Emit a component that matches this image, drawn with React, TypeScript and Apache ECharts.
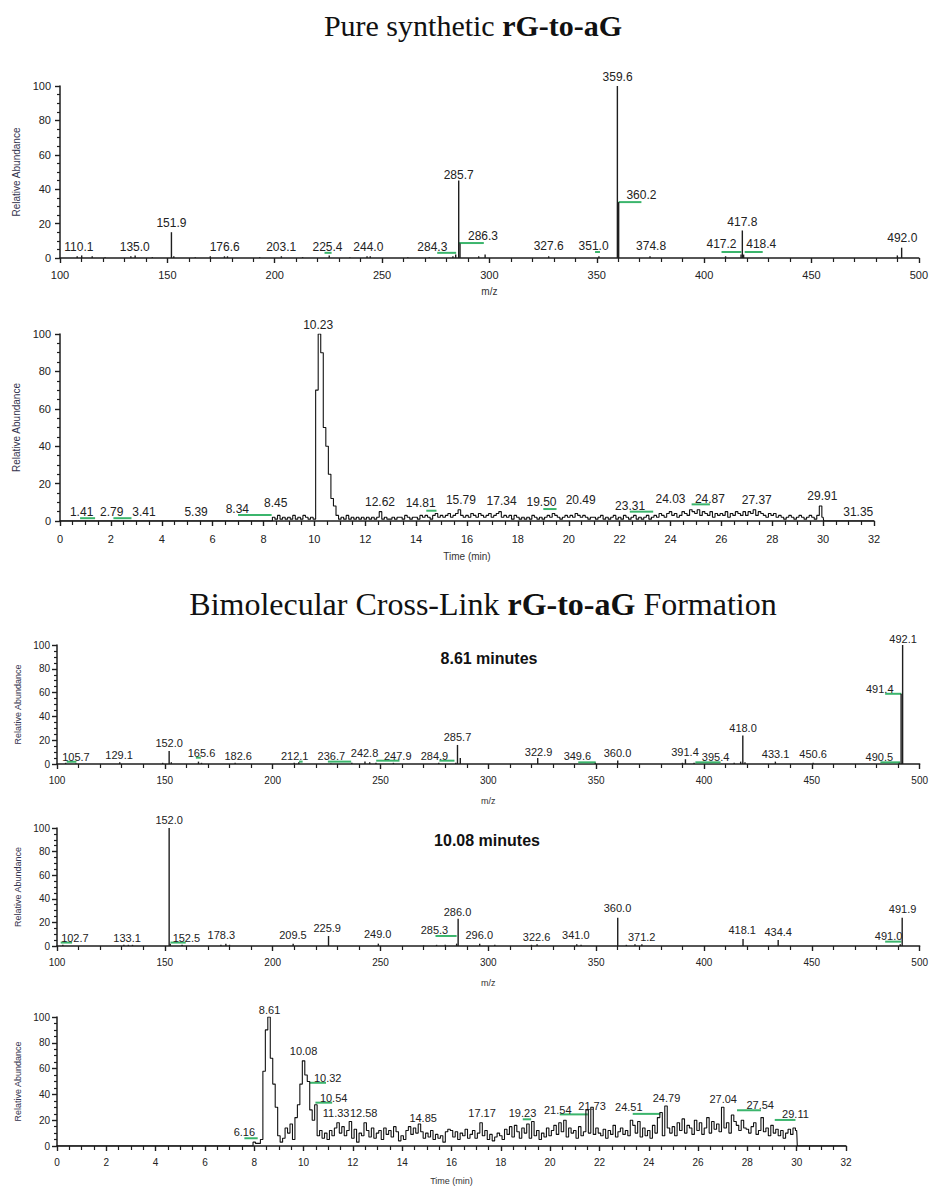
import React, { useEffect, useRef } from "react";
import * as echarts from "echarts";

// ---------- Panel 1: pure synthetic MS ----------
const ms1Peaks: [number, number][] = [
  [108, 1], [110.1, 1.5], [115, 1], [121, 0.5], [133, 1], [135, 1.5], [143, 0.5],
  [151.9, 15], [153, 1], [163, 0.5], [170, 1], [176.6, 1], [178, 1], [193, 0.5],
  [203.1, 1], [213, 0.5], [225.4, 1.5], [235, 0.5], [243, 1], [244.5, 1], [262, 0.5],
  [272, 0.5], [283, 1], [284.3, 2], [285.7, 45], [286.3, 8.5], [295, 1], [298, 2],
  [327.6, 1], [351, 1], [359.6, 100], [360.2, 32.5], [374.8, 1], [410, 1],
  [417.2, 2], [417.8, 16], [418.4, 2], [490, 1.5], [492, 6],
];
const ms1Labels: [number, number, string][] = [
  [108.8, 6.4, "110.1"], [134.8, 6.4, "135.0"], [151.9, 20.2, "151.9"],
  [176.7, 6.6, "176.6"], [203, 6.4, "203.1"], [224.6, 6.4, "225.4"],
  [243.6, 6.4, "244.0"], [273.4, 6.4, "284.3"], [285.7, 48, "285.7"],
  [297, 12.6, "286.3"], [327.6, 6.8, "327.6"], [348.5, 6.8, "351.0"],
  [359.7, 105.2, "359.6"], [370.8, 36.5, "360.2"], [375.3, 6.8, "374.8"],
  [417.8, 20.9, "417.8"], [408.1, 8, "417.2"], [426.6, 8, "418.4"],
  [492.3, 11.5, "492.0"],
];
const ms1Leaders: [number, number, number][] = [
  [223.2, 226.5, 3], [275.7, 284.5, 3], [285.8, 297.4, 8.7],
  [349.2, 351.5, 3.5], [360.2, 370.8, 32.5], [408.1, 417.3, 3.5], [418.9, 427.3, 3.5],
];

// ---------- Panel 2: chromatogram (pure synthetic) ----------
const chrom1Start = 8.3;
const chrom1Step = 0.1;
const chrom1Values = [
  0, 2, 1, 3, 1, 2, 1,
  2, 1, 3, 1, 2, 1, 3, 2, 1, 2,
  1, 70, 100, 90, 50, 40, 25, 12, 8, 3,
  1, 2, 1, 3, 1, 2, 1, 2, 1, 2,
  1, 2, 1, 2, 1, 2, 5, 1, 2, 1,
  1, 2, 1, 2, 2, 1, 3, 2, 1, 2,
  2, 1, 3, 2, 3, 2, 1, 3, 4, 2,
  3, 2, 3, 4, 2, 3, 4, 6, 3, 2,
  3, 2, 4, 3, 2, 4, 3, 2, 3, 4,
  2, 3, 4, 5, 2, 3, 2, 3, 1, 3,
  2, 1, 2, 1, 2, 1, 3, 2, 1, 2,
  1, 2, 3, 2, 4, 3, 2, 1, 2, 3,
  2, 3, 2, 4, 3, 2, 3, 2, 1, 2,
  2, 1, 2, 3, 1, 2, 1, 2, 3, 1,
  2, 1, 3, 2, 1, 2, 3, 1, 2, 1,
  2, 3, 1, 2, 3, 2, 4, 3, 2, 4,
  5, 3, 4, 2, 3, 5, 4, 3, 6, 5,
  4, 6, 3, 5, 4, 3, 5, 2, 4, 3,
  4, 3, 5, 2, 4, 3, 5, 4, 3, 5,
  3, 5, 4, 6, 3, 5, 4, 3, 2, 4,
  3, 4, 2, 3, 2, 1, 2, 3, 2, 1,
  2, 3, 2, 1, 2, 3, 2, 1, 3, 8,
  2,
];
const chrom1Lead: [number, number][] = [[0, 0], [8.25, 0]];
const chrom1Tail: [number, number][] = [[30.05, 0], [32, 0]];
const chrom1Labels: [number, number, string][] = [
  [0.85, 4.7, "1.41"], [2.03, 4.7, "2.79"], [3.3, 4.7, "3.41"], [5.35, 4.7, "5.39"],
  [6.97, 6.3, "8.34"], [8.48, 9.5, "8.45"], [10.15, 104.8, "10.23"],
  [12.58, 10.3, "12.62"], [14.18, 9.5, "14.81"], [15.76, 11.2, "15.79"],
  [17.36, 10.9, "17.34"], [18.93, 10, "19.50"], [20.47, 11.2, "20.49"],
  [22.41, 8.2, "23.31"], [24.0, 11.6, "24.03"], [25.55, 11.6, "24.87"],
  [27.39, 11.2, "27.37"], [29.97, 13.4, "29.91"], [31.38, 5, "31.35"],
];
const chrom1Leaders: [number, number, number][] = [
  [0.79, 1.38, 1.5], [2.1, 2.81, 1.5], [7.0, 8.32, 3.2], [14.4, 14.8, 5.5],
  [19.0, 19.52, 6.4], [22.4, 23.32, 5], [24.83, 25.55, 8.9],
];

// ---------- Panel 3: MS at 8.61 min ----------
const ms3Peaks: [number, number][] = [
  [104, 1], [108.8, 0.5], [129.1, 1.5], [149, 1], [152, 11], [153, 1.5], [165.6, 2],
  [167, 1], [182.6, 1], [210, 1], [212.1, 1.5], [227, 0.5], [236.7, 1], [242.8, 2],
  [245, 1.5], [247.9, 1], [256, 1], [277, 1], [284.9, 1], [285.7, 16], [287, 5],
  [322.9, 5], [349.6, 1], [360, 3], [390, 1], [391.4, 4], [395.4, 1], [414, 1],
  [417, 2], [418, 24], [419, 1.5], [433.1, 2], [450.6, 1], [490.5, 1],
  [491.4, 59], [492.1, 100],
];
const ms3Labels: [number, number, string][] = [
  [108.8, 6.1, "105.7"], [128.8, 7.6, "129.1"], [152, 17.4, "152.0"],
  [167, 9, "165.6"], [184, 6.7, "182.6"], [210.2, 6.7, "212.1"],
  [227.2, 6.7, "236.7"], [242.6, 9, "242.8"], [258, 6.7, "247.9"],
  [275, 6.7, "284.9"], [285.7, 22.4, "285.7"], [323.3, 10.3, "322.9"],
  [341.3, 6.7, "349.6"], [359.9, 9, "360.0"], [391.2, 9.8, "391.4"],
  [405.4, 6.1, "395.4"], [418.1, 30, "418.0"], [433.2, 8.2, "433.1"],
  [450.6, 8.2, "450.6"], [481.3, 6.1, "490.5"], [481.5, 62.8, "491.4"],
  [492.3, 105, "492.1"],
];
const ms3Leaders: [number, number, number][] = [
  [104.5, 109, 1.9], [164.4, 166.7, 5.3], [212.2, 213.9, 2], [225.6, 236.4, 2],
  [248, 258.8, 2.8], [277.3, 284.3, 2.8], [341.7, 349.8, 1.4], [396, 407.7, 1.4],
  [481.8, 491, 1.4], [484, 491.5, 59],
];

// ---------- Panel 4: MS at 10.08 min ----------
const ms4Peaks: [number, number][] = [
  [102.7, 1], [131, 1], [133.1, 1], [135, 1], [152, 100], [152.5, 2], [158, 1],
  [176, 1], [178.3, 2], [180, 1], [209.5, 2], [225.9, 8.5], [249, 2], [270, 0.5],
  [276, 1], [280, 1], [285.3, 2], [286, 23], [296, 2], [303, 1], [320, 1],
  [322.6, 1.5], [341, 1.5], [343, 1], [360, 24], [364, 1], [368, 1.5], [371.2, 1.5],
  [418.1, 6], [434.4, 5], [491, 1.5], [491.9, 24],
];
const ms4Labels: [number, number, string][] = [
  [108.3, 7.1, "102.7"], [132.5, 7.1, "133.1"], [152, 106.8, "152.0"],
  [160, 7.1, "152.5"], [176.2, 9.1, "178.3"], [209.4, 9.3, "209.5"],
  [225.3, 15.6, "225.9"], [248.7, 10.5, "249.0"], [275, 13.3, "285.3"],
  [285.7, 28.8, "286.0"], [295.8, 9.1, "296.0"], [322.4, 7.6, "322.6"],
  [340.6, 9.3, "341.0"], [359.9, 32.5, "360.0"], [371.1, 8, "371.2"],
  [417.7, 13.6, "418.1"], [434.4, 11.9, "434.4"], [485.6, 8.5, "491.0"],
  [492.1, 31.7, "491.9"],
];
const ms4Leaders: [number, number, number][] = [
  [101.7, 107, 2.9], [152.6, 159.7, 2.9], [275.5, 285.3, 8.5], [484, 491.5, 3.7],
];

// ---------- Panel 5: chromatogram (cross-link) ----------
const chrom2Start = 7.9;
const chrom2Step = 0.1;
const chrom2Values = [
  0,
  3, 2, 2, 5, 58, 90, 100, 68, 48, 30,
  8, 3, 6, 14, 10, 17, 5, 22, 32, 48,
  66, 55, 50, 28, 20, 32, 8, 12, 6, 10,
  5, 12, 8, 14, 18, 10, 15, 8, 12, 19,
  6, 13, 3, 10, 8, 18, 12, 7, 14, 6,
  10, 12, 5, 14, 9, 12, 7, 15, 11, 4,
  8, 5, 12, 15, 9, 14, 10, 17, 11, 6,
  10, 7, 12, 5, 9, 6, 8, 3, 11, 13,
  12, 7, 11, 5, 10, 8, 13, 6, 9, 12,
  6, 10, 18, 8, 12, 5, 9, 4, 7, 10,
  8, 5, 13, 9, 15, 7, 16, 11, 6, 14,
  10, 17, 6, 19, 8, 12, 5, 10, 7, 14,
  8, 12, 16, 9, 18, 11, 20, 7, 14, 10,
  12, 6, 15, 8, 11, 28, 10, 30, 9, 14,
  10, 8, 13, 6, 12, 9, 16, 7, 11, 14,
  9, 12, 8, 20, 16, 10, 19, 7, 14, 8,
  12, 6, 16, 10, 22, 26, 8, 31, 14, 10,
  15, 8, 18, 12, 21, 10, 16, 14, 9, 20,
  12, 18, 9, 14, 22, 10, 19, 13, 17, 11,
  30, 14, 18, 10, 24, 19, 16, 12, 20, 14,
  13, 10, 15, 18, 9, 12, 22, 11, 14, 8,
  16, 10, 13, 8, 12, 6, 10, 13, 9, 14,
  12,
];
const chrom2Lead: [number, number][] = [[0, 0]];
const chrom2Tail: [number, number][] = [[30.05, 0], [32, 0]];
const chrom2Labels: [number, number, string][] = [
  [7.6, 10.7, "6.16"], [8.62, 105.5, "8.61"], [10.0, 73.5, "10.08"],
  [10.98, 53.1, "10.32"], [11.22, 36.9, "10.54"], [11.32, 25.2, "11.33"],
  [12.44, 25.2, "12.58"], [14.85, 21.5, "14.85"], [17.24, 25.2, "17.17"],
  [18.88, 25.2, "19.23"], [20.31, 28.2, "21.54"], [21.7, 31.2, "21.73"],
  [23.19, 29.9, "24.51"], [24.72, 37.4, "24.79"], [27.02, 36.1, "27.04"],
  [28.52, 31.4, "27.54"], [29.95, 24.9, "29.11"],
];
const chrom2Leaders: [number, number, number][] = [
  [7.6, 8.14, 6], [10.25, 10.91, 49], [10.48, 11.16, 33.6], [18.89, 19.23, 20.7],
  [20.39, 21.53, 24.5], [23.35, 24.47, 24.9], [27.58, 28.55, 27.7], [29.11, 29.95, 20.2],
];

const yTicks = { min: 0, max: 100, interval: 20 };
const mzTicks = { min: 100, max: 500, interval: 50 };
const timeTicks = { min: 0, max: 32, interval: 2 };

const SANS = '"Liberation Sans", Arial, sans-serif';
const SERIF = '"Liberation Serif", "Times New Roman", serif';
const INK = "#1e1e1e";
const GREEN = "#3bb56c";

function buildTrace(start: number, step: number, values: number[], lead: [number, number][], tail: [number, number][]) {
  const pts: [number, number][] = lead.slice();
  values.forEach((v, i) => pts.push([+(start + i * step).toFixed(2), v]));
  return pts.concat(tail);
}

function stickSeries(gi: number, peaks: [number, number][]) {
  return {
    type: "custom",
    xAxisIndex: gi,
    yAxisIndex: gi,
    silent: true,
    data: peaks.map((p) => [p[0], p[1]]),
    renderItem: (params: any, api: any) => {
      const x = api.value(0);
      const y = api.value(1);
      const a = api.coord([x, 0]);
      const b = api.coord([x, y]);
      return {
        type: "line",
        shape: { x1: a[0], y1: a[1], x2: b[0], y2: b[1] },
        style: { stroke: INK, lineWidth: 1.4 },
      };
    },
  };
}

function labelSeries(gi: number, labels: [number, number, string][], fontSize: number) {
  return {
    type: "custom",
    xAxisIndex: gi,
    yAxisIndex: gi,
    silent: true,
    clip: false,
    data: labels.map((l) => [l[0], l[1]]),
    renderItem: (params: any, api: any) => {
      const l = labels[params.dataIndex];
      const p = api.coord([l[0], l[1]]);
      return {
        type: "text",
        x: p[0],
        y: p[1],
        style: {
          text: l[2],
          fill: "#222",
          font: `${fontSize}px ${SANS}`,
          align: "center",
          verticalAlign: "middle",
        },
      };
    },
  };
}

function leaderSeries(gi: number, segs: [number, number, number][]) {
  return {
    type: "custom",
    xAxisIndex: gi,
    yAxisIndex: gi,
    silent: true,
    data: segs.map((s) => [s[0], s[2]]),
    renderItem: (params: any, api: any) => {
      const s = segs[params.dataIndex];
      const a = api.coord([s[0], s[2]]);
      const b = api.coord([s[1], s[2]]);
      return {
        type: "line",
        shape: { x1: a[0], y1: a[1], x2: b[0], y2: b[1] },
        style: { stroke: GREEN, lineWidth: 2 },
      };
    },
  };
}

function xAxisCfg(gi: number, ticks: any, name: string, minorSplit: number, nameGap: number, labelMargin: number, fontSize: number) {
  return {
    type: "value",
    gridIndex: gi,
    ...ticks,
    name,
    nameLocation: "middle",
    nameGap,
    nameTextStyle: { fontSize: fontSize - 1, color: "#333", fontFamily: SANS },
    axisLine: { show: true, onZero: false, lineStyle: { color: INK, width: 1.5 } },
    axisTick: { show: true, length: 5, lineStyle: { color: INK, width: 1.4 } },
    minorTick: { show: true, splitNumber: minorSplit, length: 4, lineStyle: { color: INK, width: 1.2 } },
    splitLine: { show: false },
    axisLabel: { fontSize, color: "#222", margin: labelMargin, fontFamily: SANS },
  };
}

function yAxisCfg(gi: number, nameGap: number, fontSize: number, labelMargin: number) {
  return {
    type: "value",
    gridIndex: gi,
    ...yTicks,
    name: "Relative Abundance",
    nameLocation: "middle",
    nameRotate: 90,
    nameGap,
    nameTextStyle: { fontSize: fontSize - 1, color: "#33334d", fontFamily: SANS },
    axisLine: { show: true, lineStyle: { color: INK, width: 1.5 } },
    axisTick: { show: true, length: 5, lineStyle: { color: INK, width: 1.4 } },
    minorTick: { show: true, splitNumber: 4, length: 3, lineStyle: { color: INK, width: 1.2 } },
    splitLine: { show: false },
    axisLabel: { fontSize, color: "#222", margin: labelMargin, fontFamily: SANS },
  };
}

function traceSeries(gi: number, data: [number, number][]) {
  return {
    type: "line",
    xAxisIndex: gi,
    yAxisIndex: gi,
    data,
    step: "middle",
    showSymbol: false,
    symbol: "none",
    silent: true,
    lineStyle: { color: "#111", width: 1.1 },
  };
}

export default function App() {
  const ref = useRef<HTMLDivElement>(null);
  useEffect(() => {
    if (!ref.current) return;
    const chart = echarts.init(ref.current, undefined, { renderer: "svg" });
    const chrom1 = buildTrace(chrom1Start, chrom1Step, chrom1Values, chrom1Lead, chrom1Tail);
    const chrom2 = buildTrace(chrom2Start, chrom2Step, chrom2Values, chrom2Lead, chrom2Tail);
    const titleRich = (size: number) => ({
      n: { fontFamily: SERIF, fontSize: size, color: "#111", fontWeight: "normal" },
      b: { fontFamily: SERIF, fontSize: size, color: "#111", fontWeight: "bold" },
    });
    const option: any = {
      animation: false,
      backgroundColor: "#ffffff",
      title: [
        {
          text: "{n|Pure synthetic }{b|rG-to-aG}",
          left: 468, top: 5, textAlign: "center",
          textStyle: { rich: titleRich(30) },
        },
        {
          text: "{n|Bimolecular Cross-Link }{b|rG-to-aG}{n| Formation}",
          left: 478, top: 583, textAlign: "center",
          textStyle: { rich: titleRich(32) },
        },
        {
          text: "8.61 minutes",
          left: 484, top: 645, textAlign: "center",
          textStyle: { fontFamily: SANS, fontSize: 16, fontWeight: "bold", color: "#111" },
        },
        {
          text: "10.08 minutes",
          left: 482, top: 827, textAlign: "center",
          textStyle: { fontFamily: SANS, fontSize: 16, fontWeight: "bold", color: "#111" },
        },
      ],
      grid: [
        { left: 60, top: 86, width: 861, height: 172 },
        { left: 60, top: 334, width: 814, height: 187 },
        { left: 57, top: 645, width: 864, height: 119 },
        { left: 57, top: 828, width: 864, height: 118 },
        { left: 57, top: 1017, width: 789, height: 134 },
      ],
      xAxis: [
        xAxisCfg(0, mzTicks, "m/z", 5, 28, 11, 11),
        xAxisCfg(1, timeTicks, "Time (min)", 4, 30, 12, 11),
        xAxisCfg(2, mzTicks, "m/z", 5, 32, 11, 10),
        xAxisCfg(3, mzTicks, "m/z", 5, 32, 11, 10),
        xAxisCfg(4, timeTicks, "Time (min)", 4, 30, 11, 10),
      ],
      yAxis: [
        yAxisCfg(0, 37, 11, 9),
        yAxisCfg(1, 37, 11, 9),
        yAxisCfg(2, 35, 10, 7),
        yAxisCfg(3, 35, 10, 7),
        yAxisCfg(4, 35, 10, 7),
      ],
      series: [
        leaderSeries(0, ms1Leaders),
        stickSeries(0, ms1Peaks),
        labelSeries(0, ms1Labels, 12),
        leaderSeries(1, chrom1Leaders),
        traceSeries(1, chrom1),
        labelSeries(1, chrom1Labels, 12),
        leaderSeries(2, ms3Leaders),
        stickSeries(2, ms3Peaks),
        labelSeries(2, ms3Labels, 11),
        leaderSeries(3, ms4Leaders),
        stickSeries(3, ms4Peaks),
        labelSeries(3, ms4Labels, 11),
        leaderSeries(4, chrom2Leaders),
        traceSeries(4, chrom2),
        labelSeries(4, chrom2Labels, 11),
      ],
    };
    chart.setOption(option);
    return () => chart.dispose();
  }, []);
  return (
    <div
      ref={ref}
      style={{ position: "absolute", left: 0, top: 0, width: 931, height: 1186, background: "#fff" }}
    />
  );
}
